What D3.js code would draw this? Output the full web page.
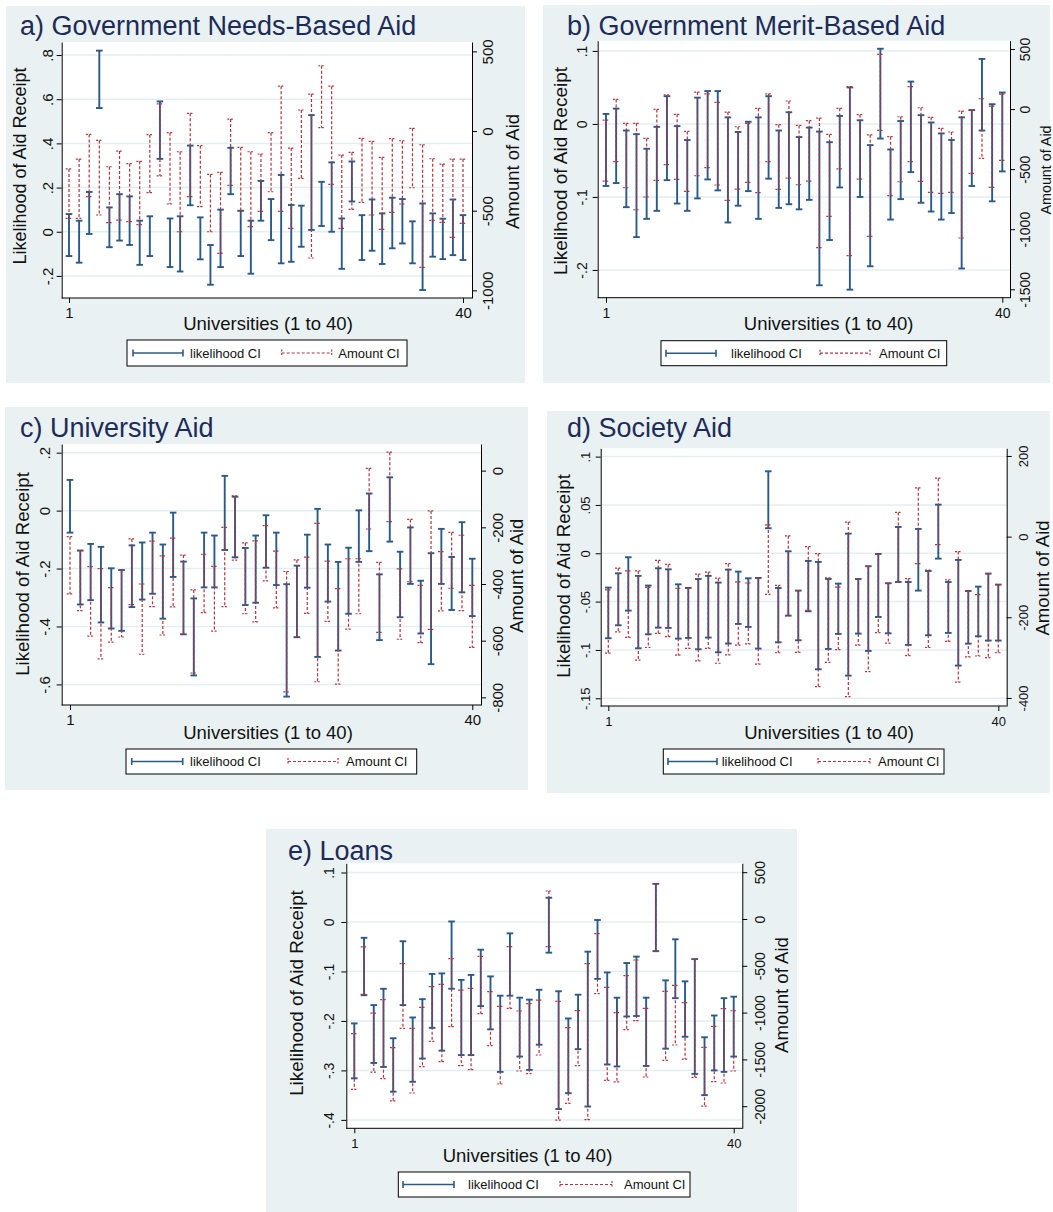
<!DOCTYPE html>
<html><head><meta charset="utf-8">
<script src="https://cdn.jsdelivr.net/npm/d3@7"></script>
<style>
body{margin:0;background:#fff;}
svg text{font-family:"Liberation Sans",Arial,Helvetica,sans-serif;fill:#111;}
</style></head><body>
<svg id="chart" width="1053" height="1212"></svg>
<script>
// ---------------- DATA ----------------
const universities = d3.range(1, 41);
const xTickValues = [1, 40];
const xTickLabels = ["1", "40"];

// a) Government Needs-Based Aid
const a_lik_hi = [0.08,0.05,0.18,0.82,0.11,0.17,0.16,0.05,0.07,0.59,0.06,0.07,0.39,0.065,-0.06,0.10,0.38,0.095,0.05,0.23,0.148,0.257,0.121,0.118,0.528,0.226,0.314,0.06,0.318,0.075,0.146,0.083,0.154,0.148,0.047,0.128,0.083,0.059,0.146,0.075];
const a_lik_lo = [-0.11,-0.14,-0.01,0.56,-0.07,-0.04,-0.06,-0.15,-0.11,0.33,-0.16,-0.18,0.12,-0.125,-0.24,-0.16,0.17,-0.11,-0.19,0.05,-0.038,-0.143,-0.136,-0.068,0.008,0.026,0.0,-0.168,0.137,-0.128,-0.086,-0.146,-0.075,-0.053,-0.143,-0.264,-0.113,-0.124,-0.106,-0.128];
const a_amt_hi = [-238,-176,-21,-59,-224,-126,-205,-190,-23,170,-10,-130,111,-92,-272,-259,75,-103,-130,-144,-10,282,-107,132,232,410,282,-151,-134,-46,-65,-165,-48,-61,17,-86,-174,-207,-176,-176];
const a_amt_lo = [-548,-548,-412,-527,-575,-559,-569,-588,-387,-282,-458,-632,-412,-475,-632,-768,-341,-502,-600,-504,-381,-504,-611,-297,-797,21,-335,-611,-492,-448,-527,-617,-510,-458,-356,-856,-561,-573,-667,-580];
const a_left_ticks = [-0.2, 0, 0.2, 0.4, 0.6, 0.8];
const a_left_labels = ["-.2", "0", ".2", ".4", ".6", ".8"];
const a_right_ticks = [-1000, -500, 0, 500];
const a_right_labels = ["-1000", "-500", "0", "500"];

// b) Government Merit-Based Aid
const b_lik_hi = [0.0137,0.021,-0.009,-0.014,-0.034,-0.004,0.038,-0.003,-0.022,0.036,0.045,0.045,0.009,-0.011,0.003,0.009,0.038,-0.009,0.016,-0.018,-0.005,-0.0105,-0.025,0.011,0.050,0.005,-0.029,0.103,-0.035,0.004,0.058,0.012,0.002,-0.013,-0.022,0.009,0.019,0.089,0.027,0.043];
const b_lik_lo = [-0.085,-0.081,-0.114,-0.155,-0.130,-0.119,-0.077,-0.109,-0.119,-0.102,-0.076,-0.091,-0.135,-0.112,-0.092,-0.130,-0.075,-0.115,-0.110,-0.117,-0.104,-0.221,-0.159,-0.087,-0.227,-0.100,-0.195,-0.020,-0.131,-0.103,-0.066,-0.108,-0.120,-0.131,-0.122,-0.198,-0.085,-0.009,-0.106,-0.065];
const b_amt_hi = [-92,80,-119,-119,-244,-3,119,-44,-186,141,127,55,-25,-147,-119,6,127,-130,67,-136,-97,-75,-211,6,186,-47,-214,455,-230,-64,186,11,-69,-161,-191,-17,-11,86,25,125];
const b_amt_lo = [-599,-438,-655,-838,-732,-594,-463,-585,-685,-555,-488,-632,-760,-666,-610,-696,-438,-669,-574,-630,-599,-1154,-893,-497,-1220,-583,-1060,-178,-721,-605,-438,-602,-693,-702,-693,-1073,-535,-410,-652,-427];
const b_left_ticks = [-0.2, -0.1, 0, 0.1];
const b_left_labels = ["-.2", "-.1", "0", ".1"];
const b_right_ticks = [-1500, -1000, -500, 0, 500];
const b_right_labels = ["-1500", "-1000", "-500", "0", "500"];

// c) University Aid
const c_lik_hi = [0.106,-0.138,-0.115,-0.125,-0.199,-0.205,-0.120,-0.110,-0.076,-0.117,-0.007,-0.176,-0.303,-0.076,-0.086,0.120,0.048,-0.129,-0.086,-0.016,-0.076,-0.254,-0.190,-0.083,0.006,-0.117,-0.177,-0.128,0.001,0.059,-0.220,0.115,-0.142,-0.058,-0.242,-0.147,-0.063,-0.160,-0.040,-0.166];
const c_lik_lo = [-0.076,-0.324,-0.309,-0.386,-0.407,-0.415,-0.333,-0.307,-0.287,-0.373,-0.229,-0.427,-0.569,-0.265,-0.265,-0.136,-0.161,-0.326,-0.318,-0.197,-0.257,-0.642,-0.437,-0.266,-0.505,-0.314,-0.483,-0.356,-0.177,-0.140,-0.447,-0.107,-0.368,-0.253,-0.424,-0.530,-0.253,-0.343,-0.282,-0.364];
const c_amt_hi = [-233,-281,-339,-346,-413,-351,-241,-400,-249,-301,-238,-298,-421,-295,-338,-200,-89,-255,-248,-194,-284,-356,-315,-305,-186,-319,-416,-311,-311,8,-324,65,-347,-172,-405,-142,-286,-218,-228,-405];
const c_amt_lo = [-435,-494,-584,-664,-605,-587,-473,-648,-480,-580,-481,-578,-714,-501,-566,-480,-316,-505,-534,-389,-484,-781,-587,-504,-745,-532,-753,-559,-505,-206,-571,-180,-595,-392,-607,-560,-495,-415,-494,-624];
const c_left_ticks = [-0.6, -0.4, -0.2, 0, 0.2];
const c_left_labels = ["-.6", "-.4", "-.2", "0", ".2"];
const c_right_ticks = [-800, -600, -400, -200, 0];
const c_right_labels = ["-800", "-600", "-400", "-200", "0"];

// d) Society Aid
const d_lik_hi = [-0.0355,-0.0207,-0.0041,-0.0234,-0.0334,-0.0155,-0.0166,-0.0321,-0.0359,-0.0266,-0.0234,-0.0303,-0.0169,-0.0190,-0.0259,-0.0255,0.0848,-0.0359,0.0021,-0.0386,-0.0079,-0.0090,-0.0266,-0.0314,0.0203,-0.0266,-0.0134,-0.0007,-0.0310,0.0272,-0.0297,0.0252,-0.0183,0.0503,-0.0297,-0.0069,-0.0390,-0.0345,-0.0210,-0.0324];
const d_lik_lo = [-0.0879,-0.0745,-0.0593,-0.0983,-0.0838,-0.0769,-0.0772,-0.0883,-0.0876,-0.0993,-0.0872,-0.1024,-0.0934,-0.0731,-0.0762,-0.0986,0.0259,-0.0921,-0.0645,-0.0900,-0.0600,-0.1200,-0.0990,-0.0834,-0.1266,-0.0831,-0.1010,-0.0659,-0.0828,-0.0297,-0.0948,-0.0386,-0.0848,-0.0055,-0.0824,-0.1162,-0.0935,-0.0859,-0.0903,-0.0903];
const d_amt_hi = [-132,-78,-85,-85,-126,-59,-69,-128,-127,-93,-88,-103,-67,-112,-115,-103,29,-121,2,-134,-25,-42,-102,-125,36,-105,-74,-43,-116,60,-104,121,-83,145,-107,-37,-135,-144,-92,-119];
const d_amt_lo = [-289,-236,-250,-306,-275,-240,-248,-294,-277,-308,-277,-314,-293,-269,-266,-316,-143,-288,-196,-287,-183,-372,-312,-280,-397,-269,-335,-238,-264,-112,-295,-67,-275,-20,-260,-361,-298,-296,-300,-288];
const d_left_ticks = [-0.15, -0.1, -0.05, 0, 0.05, 0.1];
const d_left_labels = ["-.15", "-.1", "-.05", "0", ".05", ".1"];
const d_right_ticks = [-400, -200, 0, 200];
const d_right_labels = ["-400", "-200", "0", "200"];

// e) Loans
const e_lik_hi = [-0.205,-0.032,-0.168,-0.135,-0.235,-0.039,-0.193,-0.156,-0.105,-0.104,0.001,-0.117,-0.107,-0.056,-0.110,-0.149,-0.023,-0.153,-0.157,-0.137,0.049,-0.140,-0.195,-0.147,-0.060,0.004,-0.102,-0.153,-0.083,-0.070,-0.153,0.077,-0.118,-0.035,-0.120,-0.075,-0.233,-0.189,-0.154,-0.151];
const e_lik_lo = [-0.316,-0.148,-0.285,-0.293,-0.343,-0.168,-0.323,-0.276,-0.214,-0.260,-0.135,-0.269,-0.269,-0.170,-0.217,-0.303,-0.149,-0.272,-0.299,-0.248,-0.062,-0.378,-0.346,-0.257,-0.373,-0.115,-0.288,-0.292,-0.191,-0.190,-0.291,-0.059,-0.256,-0.154,-0.232,-0.307,-0.350,-0.300,-0.303,-0.272];
const e_amt_hi = [-1225,-297,-1005,-862,-1375,-477,-1168,-944,-723,-698,-424,-759,-741,-399,-776,-933,-296,-983,-905,-866,299,-880,-1161,-979,-477,-157,-730,-1001,-606,-438,-954,377,-773,-709,-894,-431,-1371,-1147,-958,-980];
const e_amt_lo = [-1820,-805,-1635,-1706,-1944,-1168,-1859,-1578,-1307,-1524,-1150,-1567,-1610,-1011,-1353,-1763,-955,-1624,-1652,-1453,-296,-2148,-1969,-1567,-2144,-798,-1724,-1741,-1182,-1086,-1688,-342,-1510,-1346,-1496,-1692,-1999,-1738,-1752,-1624];
const e_left_ticks = [-0.4, -0.3, -0.2, -0.1, 0, 0.1];
const e_left_labels = ["-.4", "-.3", "-.2", "-.1", "0", ".1"];
const e_right_ticks = [-2000, -1500, -1000, -500, 0, 500];
const e_right_labels = ["-2000", "-1500", "-1000", "-500", "0", "500"];

const titles = ["a) Government Needs-Based Aid", "b) Government Merit-Based Aid", "c) University Aid", "d) Society Aid", "e) Loans"];
const yTitleLeft = "Likelihood of Aid Receipt";
const yTitleRight = "Amount of Aid";
const xTitle = "Universities (1 to 40)";
const legendLabels = ["likelihood CI", "Amount CI"];

// ---------------- LAYOUT ----------------
const panels = [
  {title:titles[0], lhi:a_lik_hi, llo:a_lik_lo, ahi:a_amt_hi, alo:a_amt_lo,
   lt:a_left_ticks, ll:a_left_labels, rt:a_right_ticks, rl:a_right_labels,
   bg:[6,6,525,383], plot:{l:61.7,r:472,t:42,b:298}, x1:69, x40:463,
   ldom:[-0.30,0.859], rdom:[-1048,559],
   tpos:[20,35], lt_pos:[20,166,18], rt_pos:[513,171.5,18.5], xt_pos:[268,330,18.5],
   lOff:-8.5, rOff:20.5, tickFs:15, xFs:15,
   leg:{box:[127,340,407,366], b:[133,183], bt:190, r:[281.7,331.7], rt:338.3}},
  {title:titles[1], lhi:b_lik_hi, llo:b_lik_lo, ahi:b_amt_hi, alo:b_amt_lo,
   lt:b_left_ticks, ll:b_left_labels, rt:b_right_ticks, rl:b_right_labels,
   bg:[543,5,1050,383], plot:{l:597.7,r:1010,t:40.7,b:297.7}, x1:606, x40:1002.3,
   ldom:[-0.238,0.114], rdom:[-1570,569],
   tpos:[567,35], lt_pos:[560.5,171,19], rt_pos:[1046.7,170,14.3], xt_pos:[828.7,330,18.5],
   lOff:-10.5, rOff:20, tickFs:14, xFs:14,
   leg:{box:[661,340.7,946.7,365.7], b:[666,716], bt:731, r:[820,870], rt:879}},
  {title:titles[2], lhi:c_lik_hi, llo:c_lik_lo, ahi:c_amt_hi, alo:c_amt_lo,
   lt:c_left_ticks, ll:c_left_labels, rt:c_right_ticks, rl:c_right_labels,
   bg:[5,407,528,790], plot:{l:61.7,r:481,t:444,b:705}, x1:70, x40:472.3,
   ldom:[-0.671,0.23], rdom:[-827,94],
   tpos:[20,437], lt_pos:[23,574,18.6], rt_pos:[517.3,575.8,18.3], xt_pos:[268,739,18.5],
   lOff:-11.5, rOff:21.5, tickFs:15, xFs:15,
   leg:{box:[126,749,416.7,774], b:[131.7,182.7], bt:190, r:[288,338], rt:346}},
  {title:titles[3], lhi:d_lik_hi, llo:d_lik_lo, ahi:d_amt_hi, alo:d_amt_lo,
   lt:d_left_ticks, ll:d_left_labels, rt:d_right_ticks, rl:d_right_labels,
   bg:[547,411,1050,793], plot:{l:600.7,r:1006.7,t:448.3,b:706}, x1:608.3, x40:998.3,
   ldom:[-0.158,0.1086], rdom:[-420,219],
   tpos:[567,437], lt_pos:[564,576,18.6], rt_pos:[1043.3,578,18.5], xt_pos:[829,739,18.5],
   lOff:-10.5, rOff:21.5, tickFs:13, xFs:13,
   leg:{box:[663.3,749,944,774], b:[668,717], bt:721.7, r:[818,870], rt:878}},
  {title:titles[4], lhi:e_lik_hi, llo:e_lik_lo, ahi:e_amt_hi, alo:e_amt_lo,
   lt:e_left_ticks, ll:e_left_labels, rt:e_right_ticks, rl:e_right_labels,
   bg:[266,829,797,1212], plot:{l:346.3,r:742.3,t:863.3,b:1128.3}, x1:354.3, x40:733.7,
   ldom:[-0.417,0.1186], rdom:[-2236,595],
   tpos:[288,860], lt_pos:[297,993,18.8], rt_pos:[781.7,995,18.6], xt_pos:[527.5,1162,18.5],
   lOff:-12.5, rOff:22.5, tickFs:14, xFs:13,
   leg:{box:[398.3,1172,690,1197], b:[403,454], bt:468, r:[560,612], rt:624}}
];

const BLUE = "#2b5a88", RED = "#b0353c", BG = "#eaf1f3", GRID = "#e4edf0", TITLE = "#1d2b59";
const svg = d3.select("#chart");

function vtext(g, x, y, str, size) {
  g.append("text").attr("transform", `translate(${x},${y}) rotate(-90)`)
    .attr("text-anchor", "middle").attr("dy", "0.33em")
    .style("font-size", size + "px").text(str);
}

panels.forEach(p => {
  const g = svg.append("g");
  g.append("rect").attr("x", p.bg[0]).attr("y", p.bg[1])
    .attr("width", p.bg[2] - p.bg[0]).attr("height", p.bg[3] - p.bg[1]).attr("fill", BG);
  g.append("rect").attr("x", p.plot.l).attr("y", p.plot.t)
    .attr("width", p.plot.r - p.plot.l).attr("height", p.plot.b - p.plot.t).attr("fill", "#fff");

  const x = d3.scaleLinear().domain([1, 40]).range([p.x1, p.x40]);
  const yL = d3.scaleLinear().domain(p.ldom).range([p.plot.b, p.plot.t]);
  const yR = d3.scaleLinear().domain(p.rdom).range([p.plot.b, p.plot.t]);

  // gridlines
  g.append("g").selectAll("line").data(p.lt).join("line")
    .attr("x1", p.plot.l).attr("x2", p.plot.r)
    .attr("y1", d => yL(d)).attr("y2", d => yL(d))
    .attr("stroke", GRID).attr("stroke-width", 1.5);

  const capW = 3.3;
  // likelihood CI (blue)
  const gb = g.append("g").attr("stroke", BLUE).attr("stroke-width", 1.9);
  universities.forEach((u, i) => {
    const xx = x(u), y1 = yL(p.lhi[i]), y2 = yL(p.llo[i]);
    gb.append("line").attr("x1", xx).attr("x2", xx).attr("y1", y1).attr("y2", y2);
    gb.append("line").attr("x1", xx - capW).attr("x2", xx + capW).attr("y1", y1).attr("y2", y1);
    gb.append("line").attr("x1", xx - capW).attr("x2", xx + capW).attr("y1", y2).attr("y2", y2);
  });
  // amount CI (red dashed)
  const gr = g.append("g").attr("stroke", RED).attr("stroke-width", 1.2).attr("stroke-dasharray", "3,2");
  universities.forEach((u, i) => {
    const xx = x(u), y1 = yR(p.ahi[i]), y2 = yR(p.alo[i]);
    gr.append("line").attr("x1", xx).attr("x2", xx).attr("y1", y1).attr("y2", y2);
    gr.append("line").attr("x1", xx - capW).attr("x2", xx + capW).attr("y1", y1).attr("y2", y1).attr("stroke-dasharray", "2,1.5");
    gr.append("line").attr("x1", xx - capW).attr("x2", xx + capW).attr("y1", y2).attr("y2", y2).attr("stroke-dasharray", "2,1.5");
  });

  // left axis
  const la = g.append("g").attr("transform", `translate(${p.plot.l},0)`)
    .call(d3.axisLeft(yL).tickValues(p.lt).tickFormat(d => p.ll[p.lt.indexOf(d)]).tickSize(5).tickSizeOuter(0));
  la.select(".domain").attr("stroke", "#000");
  la.selectAll(".tick line").attr("stroke", "#000");
  la.selectAll(".tick text").attr("transform", "rotate(-90)").attr("x", 0).attr("y", p.lOff).attr("dy", 0)
    .attr("text-anchor", "middle").attr("fill", "#111").style("font-size", p.tickFs + "px")
    .style("font-family", "'Liberation Sans',Arial,sans-serif");

  // right axis
  const ra = g.append("g").attr("transform", `translate(${p.plot.r},0)`)
    .call(d3.axisRight(yR).tickValues(p.rt).tickFormat(d => p.rl[p.rt.indexOf(d)]).tickSize(5).tickSizeOuter(0));
  ra.select(".domain").attr("stroke", "#000");
  ra.selectAll(".tick line").attr("stroke", "#000");
  ra.selectAll(".tick text").attr("transform", "rotate(-90)").attr("x", 0).attr("y", p.rOff).attr("dy", 0)
    .attr("text-anchor", "middle").attr("fill", "#111").style("font-size", p.tickFs + "px")
    .style("font-family", "'Liberation Sans',Arial,sans-serif");

  // bottom axis
  g.append("line").attr("x1", p.plot.l).attr("x2", p.plot.r).attr("y1", p.plot.b).attr("y2", p.plot.b)
    .attr("stroke", "#000");
  const ba = g.append("g").attr("transform", `translate(0,${p.plot.b})`)
    .call(d3.axisBottom(x).tickValues(xTickValues).tickFormat((d) => xTickLabels[xTickValues.indexOf(d)]).tickSize(5).tickSizeOuter(0));
  ba.select(".domain").remove();
  ba.selectAll(".tick line").attr("stroke", "#000");
  ba.selectAll(".tick text").attr("y", 20).attr("dy", 0).attr("fill", "#111")
    .style("font-size", p.xFs + "px").style("font-family", "'Liberation Sans',Arial,sans-serif");

  // titles
  g.append("text").attr("x", p.tpos[0]).attr("y", p.tpos[1]).style("font-size", "27px")
    .style("fill", TITLE).text(p.title);
  vtext(g, p.lt_pos[0], p.lt_pos[1], yTitleLeft, p.lt_pos[2]);
  vtext(g, p.rt_pos[0], p.rt_pos[1], yTitleRight, p.rt_pos[2]);
  g.append("text").attr("x", p.xt_pos[0]).attr("y", p.xt_pos[1]).attr("text-anchor", "middle")
    .style("font-size", p.xt_pos[2] + "px").text(xTitle);

  // legend
  const L = p.leg;
  const ly = (L.box[1] + L.box[3]) / 2;
  g.append("rect").attr("x", L.box[0]).attr("y", L.box[1]).attr("width", L.box[2] - L.box[0])
    .attr("height", L.box[3] - L.box[1]).attr("fill", "#fff").attr("stroke", "#000").attr("stroke-width", 1);
  const lb = g.append("g").attr("stroke", BLUE).attr("stroke-width", 1.6);
  lb.append("line").attr("x1", L.b[0]).attr("x2", L.b[1]).attr("y1", ly).attr("y2", ly);
  lb.append("line").attr("x1", L.b[0]).attr("x2", L.b[0]).attr("y1", ly - 3.5).attr("y2", ly + 3.5);
  lb.append("line").attr("x1", L.b[1]).attr("x2", L.b[1]).attr("y1", ly - 3.5).attr("y2", ly + 3.5);
  const lr = g.append("g").attr("stroke", RED).attr("stroke-width", 1.2);
  lr.append("line").attr("x1", L.r[0]).attr("x2", L.r[1]).attr("y1", ly).attr("y2", ly).attr("stroke-dasharray", "3,2");
  lr.append("line").attr("x1", L.r[0]).attr("x2", L.r[0]).attr("y1", ly - 3.5).attr("y2", ly + 3.5).attr("stroke-dasharray", "2,1.5");
  lr.append("line").attr("x1", L.r[1]).attr("x2", L.r[1]).attr("y1", ly - 3.5).attr("y2", ly + 3.5).attr("stroke-dasharray", "2,1.5");
  g.append("text").attr("x", L.bt).attr("y", ly + 4.5).style("font-size", "13px").text(legendLabels[0]);
  g.append("text").attr("x", L.rt).attr("y", ly + 4.5).style("font-size", "13px").text(legendLabels[1]);
});
</script>
</body></html>
